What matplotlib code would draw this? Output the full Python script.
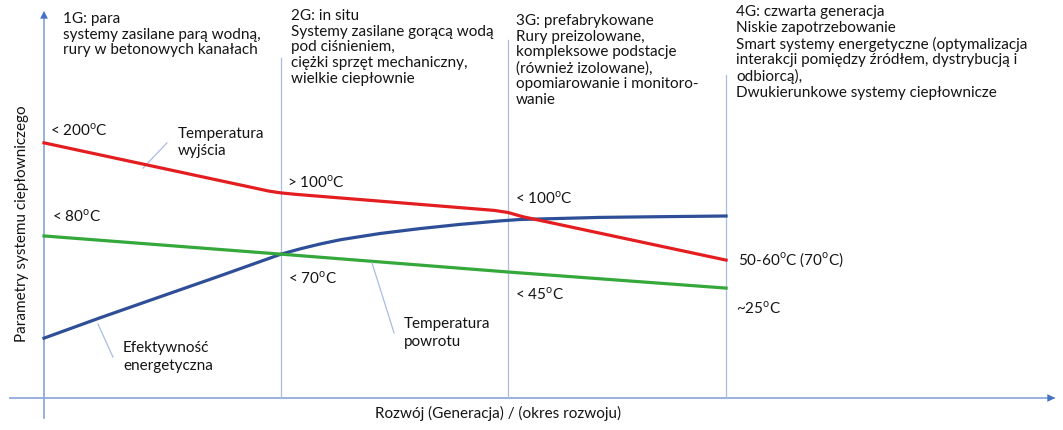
import numpy as np
import matplotlib.pyplot as plt

plt.rcParams['font.family'] = ['Lato', 'DejaVu Sans']
plt.rcParams['mathtext.fontset'] = 'custom'
plt.rcParams['mathtext.rm'] = 'Lato'

# generation boundaries (x), arbitrary parameter scale (y)
gen_x = [0, 1.0, 1.958, 2.878]

# Temperatura wyjścia (supply temperature)
supply_x = [0, 0.95, 1.0, 1.06, 1.90, 1.958, 2.02, 2.878]
supply_y = [72.9, 59.1, 58.6, 58.2, 53.6, 53.0, 51.8, 39.4]

# Temperatura powrotu (return temperature)
return_x = [0, 1.0, 1.958, 2.878]
return_y = [46.3, 41.1, 36.0, 31.4]

# Efektywność energetyczna
eff_x = [0, 0.236, 0.489, 0.743, 1.0, 1.08, 1.165, 1.249, 1.333, 1.418, 1.502, 1.586,
         1.671, 1.755, 1.840, 1.924, 2.008, 2.177, 2.346, 2.599, 2.878]
eff_y = [17.1, 22.9, 28.9, 34.9, 41.1, 42.6, 44.0, 45.2, 46.1, 47.0, 47.7, 48.4,
         49.0, 49.6, 50.1, 50.6, 51.0, 51.3, 51.6, 51.8, 52.0]

gen_titles = [
    "1G: para\nsystemy zasilane parą wodną,\nrury w betonowych kanałach",
    "2G: in situ\nSystemy zasilane gorącą wodą\npod ciśnieniem,\nciężki sprzęt mechaniczny,\nwielkie ciepłownie",
    "3G: prefabrykowane\nRury preizolowane,\nkompleksowe podstacje\n(również izolowane),\nopomiarowanie i monitoro-\nwanie",
    "4G: czwarta generacja\nNiskie zapotrzebowanie\nSmart systemy energetyczne (optymalizacja\ninterakcji pomiędzy źródłem, dystrybucją i\nodbiorcą),\nDwukierunkowe systemy ciepłownicze",
]

deg = r"$^{\mathrm{o}}$"
temp_labels = ["< 200" + deg + "C", "> 100" + deg + "C", "< 80" + deg + "C", "< 70" + deg + "C",
               "< 100" + deg + "C", "< 45" + deg + "C", "50-60" + deg + "C (70" + deg + "C)", "~25" + deg + "C"]

RED = '#E41E20'
BLUE = '#2E4F98'
GREEN = '#34A83B'
GRID = '#A9BCE3'
AXIS = '#8FAADC'
HEAD = '#4472C4'
TXT = '#141414'
FS = 11

fig = plt.figure(figsize=(10.63, 4.30), dpi=100)
ax = fig.add_axes([0, 0, 1, 1])
ax.set_xlim(-44 / 237, (1063 - 44) / 237)
ax.set_ylim((398 - 430) / 3.5, 398 / 3.5)
ax.set_axis_off()

# axes with arrows
ax.plot([-0.1435, 4.26], [0, 0], color=AXIS, lw=1.3, zorder=1)
ax.plot([0, 0], [-5.7, 109.5], color=AXIS, lw=1.3, zorder=1)
ax.annotate('', xy=(4.278, 0), xytext=(4.20, 0),
            arrowprops=dict(arrowstyle='-|>', color=HEAD, lw=0, mutation_scale=14))
ax.annotate('', xy=(0, 111.4), xytext=(0, 106),
            arrowprops=dict(arrowstyle='-|>', color=HEAD, lw=0, mutation_scale=14))

# generation separators
sep_top = [97.1, 102.3, 92.3]
for gx, top in zip(gen_x[1:], sep_top):
    ax.plot([gx, gx], [0, top], color=GRID, lw=0.9, zorder=1)

# curves
ax.plot(supply_x, supply_y, color=RED, lw=2.3, solid_joinstyle='round', zorder=3)
ax.plot(eff_x, eff_y, color=BLUE, lw=2.3, solid_joinstyle='round', zorder=2)
ax.plot(return_x, return_y, color=GREEN, lw=2.3, solid_joinstyle='round', zorder=2)

# generation descriptions
title_pos = [(0.080, 110.3), (1.042, 111.1), (1.992, 109.7), (2.920, 112.2)]
for (tx, ty), t in zip(title_pos, gen_titles):
    ax.text(tx, ty, t, ha='left', va='top', fontsize=FS, color=TXT, linespacing=1.15)

# temperature labels
temp_pos = [(0.025, 76.6), (1.025, 61.7), (0.034, 52.0), (1.030, 34.3),
            (1.987, 57.1), (1.987, 29.7), (2.928, 39.4), (2.920, 25.7)]
for (tx, ty), t in zip(temp_pos, temp_labels):
    ax.text(tx, ty, t, ha='left', va='center', fontsize=FS, color=TXT)

# curve names with leader lines
ax.text(0.565, 72.9, "Temperatura\nwyjścia", ha='left', va='center', fontsize=FS, color=TXT, linespacing=1.3)
ax.plot([0.418, 0.519], [65.7, 72.9], color=GRID, lw=0.9)
ax.text(0.333, 11.7, "Efektywność\nenergetyczna", ha='left', va='center', fontsize=FS, color=TXT, linespacing=1.3)
ax.plot([0.228, 0.291], [21.1, 11.7], color=GRID, lw=0.9)
ax.text(1.519, 18.6, "Temperatura\npowrotu", ha='left', va='center', fontsize=FS, color=TXT, linespacing=1.3)
ax.plot([1.384, 1.477], [38.6, 18.6], color=GRID, lw=0.9)

# axis titles
ax.text(-0.093, 49.7, "Parametry systemu ciepłowniczego", rotation=90, ha='center', va='center',
        fontsize=FS, color=TXT)
ax.text(1.916, -4.3, "Rozwój (Generacja) / (okres rozwoju)", ha='center', va='center',
        fontsize=FS, color=TXT)

fig.savefig('out.png', dpi=100)
